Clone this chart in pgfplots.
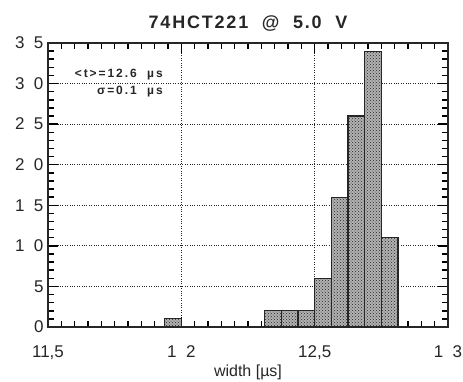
\documentclass[border=0pt]{standalone}
\usepackage{pgfplots}
\pgfplotsset{compat=1.18}
\usepackage{fontspec}
\setmainfont{Liberation Sans}
\setsansfont{Liberation Sans}
\usetikzlibrary{patterns}
\begin{document}
\begin{tikzpicture}
\begin{axis}[
  scale only axis, width=400pt, height=284pt,
  clip mode=individual,
  xmin=11.5, xmax=13, ymin=0, ymax=35,
  xtick={11.5,12,12.5,13},
  xticklabels={{11,5},{1\ \ 2},{12,5},{1\ \ 3}},
  ytick={0,5,10,15,20,25,30,35},
  yticklabels={0,5,1\ \ 0,1\ \ 5,2\ \ 0,2\ \ 5,3\ \ 0,3\ \ 5},
  minor xtick={11.55,11.6,...,12.96},
  minor ytick={1,2,...,34},
  xtick pos=both, ytick pos=both,
  tick align=inside, major tick length=10pt, minor tick length=6pt,
  xmajorgrids, ymajorgrids,
  grid style={dotted, draw=black!85, line width=1.1pt},
  axis line style={draw=black!85, line width=1.3pt},
  xtick style={draw=black, line width=1.5pt},
  ytick style={draw=black, line width=1.5pt},
  ticklabel style={font=\fontsize{17}{19}\selectfont, text=black!85},
  yticklabel style={xshift=-1pt},
  xticklabel style={yshift=-15pt},
  xlabel={width [µs]},
  xlabel style={font=\fontsize{16}{18}\selectfont, text=black!85, yshift=2pt},
  title={\bfseries\addfontfeature{LetterSpace=10}74HCT221\ \ @\ \ 5.0\ \ V},
  title style={font=\fontsize{18}{20}\selectfont, text=black!85, yshift=2pt},
  /pgf/number format/assume math mode=true,
]
\addplot[ybar interval, draw=black!85, line width=1.2pt, fill=gray!60,
  postaction={pattern=crosshatch dots, pattern color=black!85}]
  coordinates {(11.9375,1) (12,1)};
\addplot[ybar interval, draw=black!85, line width=1.2pt, fill=gray!60,
  postaction={pattern=crosshatch dots, pattern color=black!85}]
  coordinates {(12.3125,2) (12.375,2) (12.4375,2) (12.5,6) (12.5625,16)
               (12.625,26) (12.6875,34) (12.75,11) (12.8125,11)};
\node[anchor=east, inner sep=0pt, text=black!85,
  font=\fontsize{12}{14}\selectfont\bfseries\addfontfeature{LetterSpace=16}]
  at (axis cs:11.931,31.06) {<t>=12.6\ \ µs};
\node[anchor=east, inner sep=0pt, text=black!85,
  font=\fontsize{12}{14}\selectfont\bfseries\addfontfeature{LetterSpace=16}]
  at (axis cs:11.931,28.96) {σ=0.1\ \ µs};
\end{axis}
\pgfresetboundingbox
\path[use as bounding box] (-48pt,-54pt) rectangle (415pt,327pt);
\end{tikzpicture}
\end{document}
